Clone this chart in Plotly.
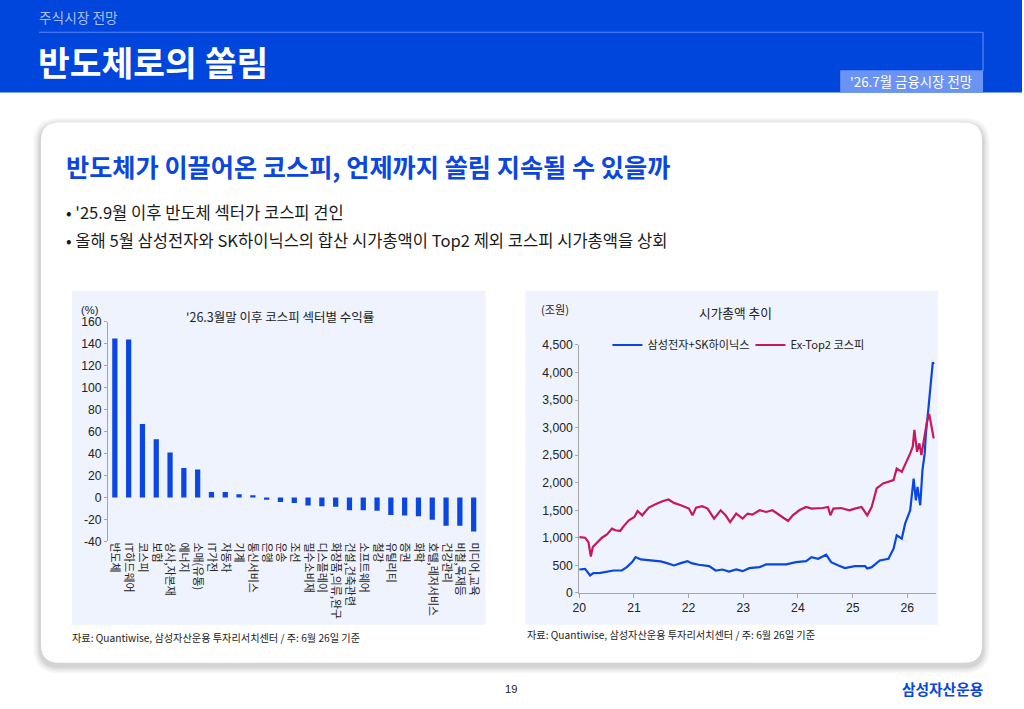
import plotly.graph_objects as go

# Figure size as requested; layout positions are given in target-picture pixels and
# mapped to paper fractions (the page around the figure adds an 8px margin that the
# photograph then scales back into 1024x709).
W, H = 1024, 709
PAD = 8
SX, SY = (W + PAD) / W, (H + 2 * PAD) / H
FS = 1.016  # font scale compensating the picture's slight downscale

# ---------------- data ----------------
sectors = ["반도체", "IT하드웨어", "코스피", "보험", "상사,자본재", "에너지", "소매(유통)", "IT가전",
           "자동차", "기계", "통신서비스", "은행", "운송", "조선", "필수소비재", "디스플레이",
           "화장품,의류,완구", "건설,건축관련", "소프트웨어", "철강", "유틸리티", "증권", "화학",
           "호텔,레저서비스", "건강관리", "비철,목재등", "미디어,교육"]
sector_returns = [145, 144, 67, 53, 41, 27, 25.5, 5, 5, 3, 2, -2, -4, -5, -7.3, -8,
                  -8.5, -11.5, -11.5, -12, -16, -16.4, -17, -20.3, -25.8, -25.8, -31]
left_ytick_vals = [-40, -20, 0, 20, 40, 60, 80, 100, 120, 140, 160]
left_ytick_text = ["-40", "-20", "0", "20", "40", "60", "80", "100", "120", "140", "160"]

sk_dates = ["2020-01-02", "2020-02-10", "2020-03-14", "2020-04-05", "2020-05-22", "2020-07-05",
            "2020-08-18", "2020-10-12", "2020-11-14", "2020-12-20", "2021-01-12", "2021-02-15",
            "2021-03-28", "2021-05-15", "2021-06-28", "2021-08-10", "2021-09-25", "2021-11-10",
            "2021-12-25", "2022-01-20", "2022-03-10", "2022-05-18", "2022-07-01", "2022-08-15",
            "2022-09-28", "2022-11-15", "2022-12-28", "2023-02-10", "2023-04-20", "2023-06-03",
            "2023-08-08", "2023-10-15", "2023-12-20", "2024-02-25", "2024-04-01", "2024-05-15",
            "2024-07-08", "2024-08-10", "2024-09-28", "2024-11-10", "2025-01-15", "2025-03-25",
            "2025-04-08", "2025-05-08", "2025-07-01", "2025-08-28", "2025-10-01", "2025-10-22",
            "2025-11-25", "2025-12-17", "2026-01-20", "2026-02-12", "2026-02-27", "2026-03-10",
            "2026-03-28", "2026-04-12", "2026-04-27", "2026-05-05", "2026-05-20", "2026-06-03",
            "2026-06-20", "2026-06-26"]
sk_values = [424, 436, 315, 358, 364, 388, 406, 406, 467, 558, 649, 607,
             600, 583, 571, 540, 498, 540, 577, 540, 510, 485, 406, 424,
             388, 424, 394, 449, 467, 516, 510, 516, 558, 577, 649, 619,
             692, 558, 497, 449, 485, 485, 443, 467, 588, 619, 801, 1044,
             983, 1256, 1499, 2076, 1681, 1924, 1590, 2228, 2532, 2896, 3300, 3746,
             4190, 4150]

ex_dates = ["2020-01-02", "2020-02-10", "2020-03-03", "2020-03-19", "2020-04-01", "2020-04-25",
            "2020-06-01", "2020-07-05", "2020-08-07", "2020-08-30", "2020-10-01", "2020-10-23",
            "2020-11-28", "2021-01-04", "2021-01-25", "2021-02-25", "2021-04-10", "2021-05-25",
            "2021-07-10", "2021-08-20", "2021-09-25", "2021-11-10", "2022-01-03", "2022-01-27",
            "2022-02-20", "2022-04-01", "2022-05-08", "2022-06-20", "2022-08-03", "2022-09-05",
            "2022-10-05", "2022-11-15", "2022-12-28", "2023-01-30", "2023-03-03", "2023-04-20",
            "2023-06-03", "2023-07-15", "2023-08-30", "2023-10-27", "2023-11-28", "2024-01-10",
            "2024-02-25", "2024-04-01", "2024-06-15", "2024-07-20", "2024-08-05", "2024-08-25",
            "2024-10-15", "2024-12-10", "2025-01-15", "2025-03-01", "2025-04-08", "2025-05-08",
            "2025-06-10", "2025-07-23", "2025-10-01", "2025-10-22", "2025-11-25", "2025-12-17",
            "2026-01-20", "2026-02-06", "2026-02-17", "2026-03-07", "2026-03-22", "2026-04-05",
            "2026-04-27", "2026-05-12", "2026-05-27", "2026-06-14", "2026-06-26"]
ex_values = [1013, 1001, 922, 661, 831, 892, 1001, 1062, 1166, 1136, 1124, 1208,
             1317, 1377, 1487, 1408, 1548, 1609, 1663, 1694, 1633, 1590, 1530, 1408,
             1548, 1572, 1530, 1348, 1499, 1408, 1286, 1439, 1348, 1439, 1420, 1499,
             1469, 1499, 1408, 1305, 1408, 1499, 1560, 1530, 1540, 1560, 1408, 1530,
             1540, 1500, 1530, 1560, 1408, 1560, 1895, 1986, 2046, 2259, 2197, 2319,
             2532, 2653, 2957, 2561, 2714, 2501, 2897, 3108, 3250, 2957, 2805]

series_names = ["삼성전자+SK하이닉스", "Ex-Top2 코스피"]

# ---------------- helpers ----------------
def X(px):
    return (px * SX - PAD) / W

def Y(py):
    return 1 - (py * SY - PAD) / H

def rrect(x0, y0, x1, y1, r):
    return (f"M {X(x0 + r)},{Y(y0)} L {X(x1 - r)},{Y(y0)} Q {X(x1)},{Y(y0)} {X(x1)},{Y(y0 + r)} "
            f"L {X(x1)},{Y(y1 - r)} Q {X(x1)},{Y(y1)} {X(x1 - r)},{Y(y1)} "
            f"L {X(x0 + r)},{Y(y1)} Q {X(x0)},{Y(y1)} {X(x0)},{Y(y1 - r)} "
            f"L {X(x0)},{Y(y0 + r)} Q {X(x0)},{Y(y0)} {X(x0 + r)},{Y(y0)} Z")

KR = "Noto Sans CJK KR"
NUM = "Liberation Sans, Noto Sans CJK KR"
BLUE = "#0A46E0"
RED = "#C8185C"
AXIS = "#A6A6A6"
PANEL = "#EEF3FD"

fig = go.Figure()

# left: bar chart
fig.add_trace(go.Bar(x=sectors, y=sector_returns, marker=dict(color=BLUE, line=dict(width=0)),
                     width=0.38, showlegend=False, xaxis="x", yaxis="y", hoverinfo="x+y"))

# right: line chart
fig.add_trace(go.Scatter(x=sk_dates, y=sk_values, mode="lines", name=series_names[0],
                         line=dict(color=BLUE, width=2.2), xaxis="x2", yaxis="y2"))
fig.add_trace(go.Scatter(x=ex_dates, y=ex_values, mode="lines", name=series_names[1],
                         line=dict(color=RED, width=2.2), xaxis="x2", yaxis="y2"))

left_ydom = [Y(541), Y(322)]
ymin, ymax = -40, 160
zero_pos = left_ydom[0] + (0 - ymin) / (ymax - ymin) * (left_ydom[1] - left_ydom[0])

shapes = []
# header (reaching into the page margin strip)
shapes.append(dict(type="rect", xref="paper", yref="paper", x0=X(0), x1=X(1024), y0=Y(93), y1=Y(0),
                   fillcolor="#0046DC", line=dict(width=0), layer="below"))
shapes.append(dict(type="line", xref="paper", yref="paper", x0=X(40), x1=X(985), y0=Y(33), y1=Y(33),
                   line=dict(color="#5A86F2", width=1.2), layer="below"))
shapes.append(dict(type="line", xref="paper", yref="paper", x0=X(985), x1=X(985), y0=Y(33), y1=Y(72),
                   line=dict(color="#5A86F2", width=1.2), layer="below"))
shapes.append(dict(type="rect", xref="paper", yref="paper", x0=X(842), x1=X(985), y0=Y(93), y1=Y(71),
                   fillcolor="#6A93F4", line=dict(width=0), layer="below"))
# card shadow
for i, a in enumerate([0.018, 0.018, 0.02, 0.022, 0.025, 0.03, 0.035]):
    e = 8 - i
    shapes.append(dict(type="path", xref="paper", yref="paper",
                       path=rrect(42 - e, 123 - e + 3, 984 + e, 662 + e + 3, 18 + e),
                       fillcolor=f"rgba(0,0,0,{a})", line=dict(width=0), layer="below"))
shapes.append(dict(type="path", xref="paper", yref="paper", path=rrect(42, 123, 984, 662, 18),
                   fillcolor="white", line=dict(width=0), layer="below"))
# chart panels
shapes.append(dict(type="rect", xref="paper", yref="paper", x0=X(73), x1=X(487), y0=Y(624), y1=Y(291),
                   fillcolor=PANEL, line=dict(width=0), layer="below"))
shapes.append(dict(type="rect", xref="paper", yref="paper", x0=X(527), x1=X(940), y0=Y(624), y1=Y(291),
                   fillcolor=PANEL, line=dict(width=0), layer="below"))

annotations = []

def txt(x, y, s, size, color="#222", bold=False, xanchor="left", family=KR):
    annotations.append(dict(x=X(x), y=Y(y), xref="paper", yref="paper", text=(f"<b>{s}</b>" if bold else s),
                            showarrow=False, xanchor=xanchor, yanchor="middle",
                            font=dict(size=size * FS, color=color, family=family)))

txt(38, 18, "주식시장 전망", 13.5, color="#A9C0F7")
txt(37, 62, "반도체로의 쏠림", 34, color="white", bold=True)
txt(913, 82, "'26.7월 금융시장 전망", 13.2, color="white", xanchor="center")
txt(65, 166, "반도체가 이끌어온 코스피, 언제까지 쏠림 지속될 수 있을까", 24.8, color="#0A46E0", bold=True)
txt(65, 212, "• '25.9월 이후 반도체 섹터가 코스피 견인", 16.3, color="#1A1A1A")
txt(65, 240, "• 올해 5월 삼성전자와 SK하이닉스의 합산 시가총액이 Top2 제외 코스피 시가총액을 상회", 16.3, color="#1A1A1A")
txt(281, 317, "'26.3월말 이후 코스피 섹터별 수익률", 12.3, xanchor="center")
txt(80, 310, "(%)", 11, family=NUM)
txt(737, 313, "시가총액 추이", 12.5, xanchor="center")
txt(540, 309, "(조원)", 11)
txt(71, 637, "자료: Quantiwise, 삼성자산운용 투자리서치센터 / 주: 6월 26일 기준", 10, color="#222")
txt(526, 634, "자료: Quantiwise, 삼성자산운용 투자리서치센터 / 주: 6월 26일 기준", 10, color="#222")
txt(512, 688, "19", 11, xanchor="center", family=NUM)
txt(987, 688, "삼성자산운용", 14.5, color="#0A46E0", bold=True, xanchor="right")

fig.update_layout(
    width=W, height=H, margin=dict(l=0, r=0, t=0, b=0),
    paper_bgcolor="white", plot_bgcolor="rgba(0,0,0,0)",
    shapes=shapes, annotations=annotations, bargap=0.6,
    font=dict(family=KR, color="#222"),
    xaxis=dict(domain=[X(109), X(482)], anchor="y", type="category", categoryorder="array",
               categoryarray=sectors, showline=False, ticks="", tickangle=90,
               tickfont=dict(size=10.8 * FS, family=KR, color="#222"), showgrid=False, zeroline=False,
               fixedrange=True),
    yaxis=dict(domain=left_ydom, anchor="x", range=[ymin, ymax], tickvals=left_ytick_vals,
               ticktext=left_ytick_text, showline=True, linecolor=AXIS, linewidth=1, ticks="outside",
               ticklen=3, tickcolor=AXIS, showgrid=False, zeroline=False,
               tickfont=dict(size=12 * FS, family=NUM, color="#222")),
    xaxis3=dict(overlaying="x", anchor="free", position=zero_pos, type="linear",
                range=[-0.5, len(sectors) - 0.5], tick0=0.5, dtick=1, ticks="outside", ticklen=3,
                tickcolor=AXIS, showline=True, linecolor=AXIS, linewidth=1, showticklabels=False,
                showgrid=False, zeroline=False),
    xaxis2=dict(domain=[X(580.7), X(938)], anchor="y2", type="date",
                range=["2020-01-01", "2026-07-12"], tick0="2020-01-01", dtick="M12", tickformat="%y",
                ticks="outside", ticklen=4, tickcolor=AXIS, showline=True, linecolor=AXIS, linewidth=1,
                showgrid=False, zeroline=False, tickfont=dict(size=12 * FS, family=NUM, color="#222")),
    yaxis2=dict(domain=[Y(592.3), Y(345)], anchor="x2", range=[0, 4500], dtick=500, tickformat=",",
                showline=True, linecolor=AXIS, linewidth=1, ticks="outside", ticklen=3, tickcolor=AXIS,
                showgrid=False, zeroline=False, tickfont=dict(size=12 * FS, family=NUM, color="#222")),
    legend=dict(orientation="h", x=X(609), y=Y(345), xanchor="left", yanchor="middle",
                bgcolor="rgba(0,0,0,0)", font=dict(size=11 * FS, family=KR, color="#222"),
                entrywidth=98, itemwidth=30),
)

fig.write_html("out.html")
